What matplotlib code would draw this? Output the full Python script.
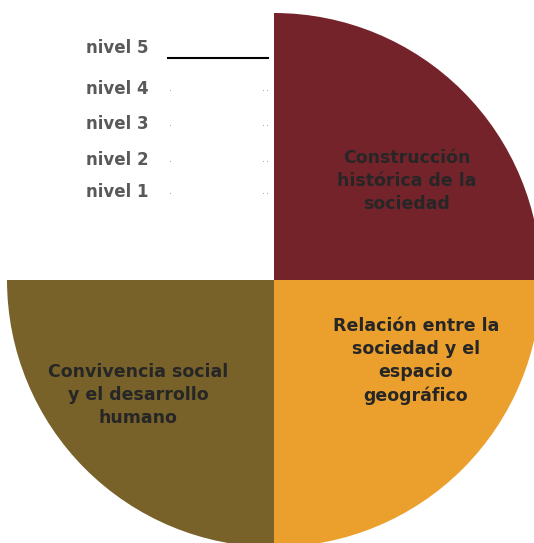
import matplotlib
matplotlib.use("Agg")
import matplotlib.pyplot as plt

# Data
sections = ["Construcción\nhistórica de la\nsociedad",
            "Relación entre la\nsociedad y el\nespacio\ngeográfico",
            "Convivencia social\ny el desarrollo\nhumano",
            ""]
shares = [1, 1, 1, 1]
colors = ["#75232B", "#EBA02E", "#78622A", "none"]
levels = ["nivel 5", "nivel 4", "nivel 3", "nivel 2", "nivel 1"]
level_y = [48, 89, 124, 160, 192]

W, H = 534, 543
fig = plt.figure(figsize=(W / 100, H / 100), dpi=100)
ax = fig.add_axes([0, 0, 1, 1])

cx, cy, r = 274, H - 280, 267
wedges, _ = ax.pie(shares, colors=colors, startangle=90, counterclock=False,
                   center=(cx, cy), radius=r, wedgeprops=dict(linewidth=0))
ax.set_xlim(0, W)
ax.set_ylim(0, H)
ax.set_aspect("auto")
ax.axis("off")

font = ["DejaVu Sans"]
txt_color = "#262626"
label_pos = [(407, 181), (416, 361), (138, 395)]
for name, (x, y) in zip(sections[:3], label_pos):
    ax.text(x, H - y, name, ha="center", va="center", fontsize=12.5,
            fontweight="bold", color=txt_color, family=font, linespacing=1.35)

for i, (lab, y) in enumerate(zip(levels, level_y)):
    ax.text(86, H - y, lab, ha="left", va="center", fontsize=12,
            fontweight="bold", color="#595959", family=font)
    if i == 0:
        ax.plot([168, 268], [H - 58, H - 58], color="black", lw=1.5)
    else:
        yy = H - y - 1
        ax.plot([170, 263, 267], [yy, yy, yy], ls="none", marker="o",
                markersize=0.5, markeredgewidth=0, color="#777777")

fig.savefig("out.png", dpi=100)
